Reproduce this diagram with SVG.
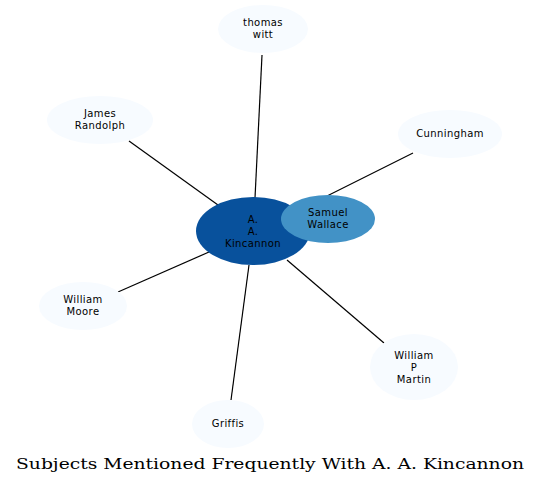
<svg xmlns="http://www.w3.org/2000/svg" width="541" height="484" viewBox="0 0 541 484">
<style>
.n{font-family:"DejaVu Sans",sans-serif;font-size:10px;letter-spacing:0.4px;text-anchor:middle;fill:#000}
.e{stroke:#000;stroke-width:1.2;fill:none}
.lt{fill:#f7fbff;stroke:none}
</style>
<rect width="541" height="484" fill="#fff"/>
<g id="edges">
<line class="e" x1="262" y1="55" x2="255" y2="198"/>
<line class="e" x1="129" y1="141" x2="218" y2="205"/>
<line class="e" x1="413" y1="153" x2="327" y2="196"/>
<line class="e" x1="118" y1="292" x2="209" y2="252"/>
<line class="e" x1="384" y1="343" x2="287" y2="260"/>
<line class="e" x1="231" y1="400" x2="249" y2="265"/>
</g>
<g id="kincannon">
<ellipse cx="253" cy="231" rx="57" ry="34" fill="#08519c"/>
<text class="n" x="253" y="223">A.</text>
<text class="n" x="253" y="235">A.</text>
<text class="n" x="253" y="247">Kincannon</text>
</g>
<g id="wallace">
<ellipse cx="328" cy="219" rx="47" ry="24" fill="#4292c6"/>
<text class="n" x="328" y="216">Samuel</text>
<text class="n" x="328" y="228">Wallace</text>
</g>
<g id="witt">
<ellipse class="lt" cx="263" cy="29" rx="45" ry="24"/>
<text class="n" x="263" y="26">thomas</text>
<text class="n" x="263" y="38">witt</text>
</g>
<g id="randolph">
<ellipse class="lt" cx="100" cy="120" rx="53" ry="24"/>
<text class="n" x="100" y="117">James</text>
<text class="n" x="100" y="129">Randolph</text>
</g>
<g id="cunningham">
<ellipse class="lt" cx="450" cy="134" rx="52" ry="24"/>
<text class="n" x="450" y="137">Cunningham</text>
</g>
<g id="moore">
<ellipse class="lt" cx="83" cy="306" rx="44" ry="24"/>
<text class="n" x="83" y="303">William</text>
<text class="n" x="83" y="315">Moore</text>
</g>
<g id="martin">
<ellipse class="lt" cx="414" cy="367" rx="44" ry="33"/>
<text class="n" x="414" y="359">William</text>
<text class="n" x="414" y="371">P</text>
<text class="n" x="414" y="383">Martin</text>
</g>
<g id="griffis">
<ellipse class="lt" cx="228" cy="424" rx="36" ry="24"/>
<text class="n" x="228" y="427">Griffis</text>
</g>
<text x="16" y="469" font-family="'DejaVu Serif',serif" font-size="15" textLength="508" lengthAdjust="spacingAndGlyphs">Subjects Mentioned Frequently With A. A. Kincannon</text>
</svg>
